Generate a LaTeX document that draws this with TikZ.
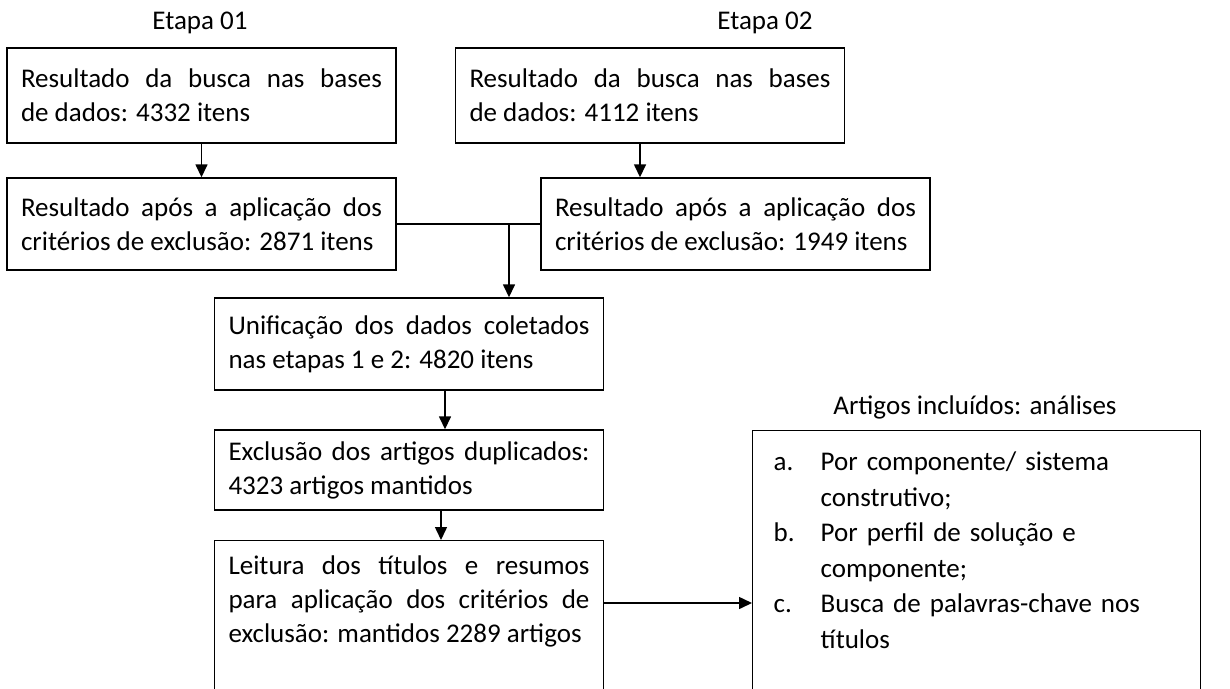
\documentclass[tikz,border=0pt]{standalone}
\usepackage{fontspec}
\setmainfont{Carlito}
\usetikzlibrary{arrows.meta}
\tikzset{
  box/.style={draw, line width=1.4pt, text width=361pt, inner xsep=14pt, inner ysep=8pt,
    align=justify, font=\fontsize{27}{34}\selectfont},
  arr/.style={line width=1.5pt, -{Triangle[length=13pt,width=12pt]}},
  lbl/.style={font=\fontsize{27}{30}\selectfont, inner sep=0pt},
  conn/.style={line width=1.5pt}
}
\begin{document}
\begin{tikzpicture}[x=1pt,y=-1pt]
\useasboundingbox (0,0) rectangle (1230,688);
\clip (0,0) rectangle (1230,688);
\node[lbl, anchor=base] (e1) at (200,29) {Etapa 01};
\node[lbl, anchor=base] (e2) at (765,29) {Etapa 02};
\node[box, minimum height=95pt] (b1) at (201.5,95.5) {Resultado da busca nas bases\linebreak de dados: 4332 itens};
\node[box, minimum height=92pt] (b2) at (201.5,224) {Resultado após a aplicação dos\linebreak critérios de exclusão: 2871 itens};
\node[box, minimum height=95pt] (b3) at (650,95.5) {Resultado da busca nas bases\linebreak de dados: 4112 itens};
\node[box, minimum height=92pt] (b4) at (735.5,224) {Resultado após a aplicação dos\linebreak critérios de exclusão: 1949 itens};
\node[box, minimum height=92pt] (b5) at (409,344) {Unificação dos dados coletados\linebreak nas etapas 1 e 2: 4820 itens};
\node[box, minimum height=80pt] (b6) at (409,470) {Exclusão dos artigos duplicados:\linebreak 4323 artigos mantidos};
\node[box, anchor=north, inner ysep=15pt] (b7) at (409,540) {Leitura dos títulos e resumos\linebreak para aplicação dos critérios de\linebreak exclusão: mantidos 2289 artigos\par\rule{0pt}{120pt}};
\node[lbl, anchor=base] (t8) at (975,414) {Artigos incluídos: análises};
\node[draw, line width=1.4pt, anchor=north west, text width=406pt, inner xsep=21pt, inner ysep=15pt,
  align=left, font=\fontsize{27}{35.5}\selectfont] (b8) at (752,430)
  {\begin{tabular}{@{}p{35pt}l@{}}
   a. & Por componente/ sistema\\
      & construtivo;\\
   b. & Por perfil de solução e\\
      & componente;\\
   c. & Busca de palavras-chave nos\\
      & títulos
   \end{tabular}\par\rule{0pt}{120pt}};
\draw[arr] (b1.south) -- (b2.north);
\draw[arr] ([xshift=-10pt]b3.south) -- ([xshift=-10pt]b3.south |- b4.north);
\coordinate (m) at (509,224);
\draw[conn] (b2.east) -- (b4.west);
\draw[arr] (m) -- (m |- b5.north);
\draw[arr] ([xshift=36pt]b5.south) -- ([xshift=36pt]b5.south |- b6.north);
\draw[arr] ([xshift=32pt]b6.south) -- ([xshift=32pt]b6.south |- b7.north);
\draw[arr] ([yshift=-63pt]b7.north east) -- ([yshift=-63pt]b7.north east -| b8.west);
\end{tikzpicture}
\end{document}
